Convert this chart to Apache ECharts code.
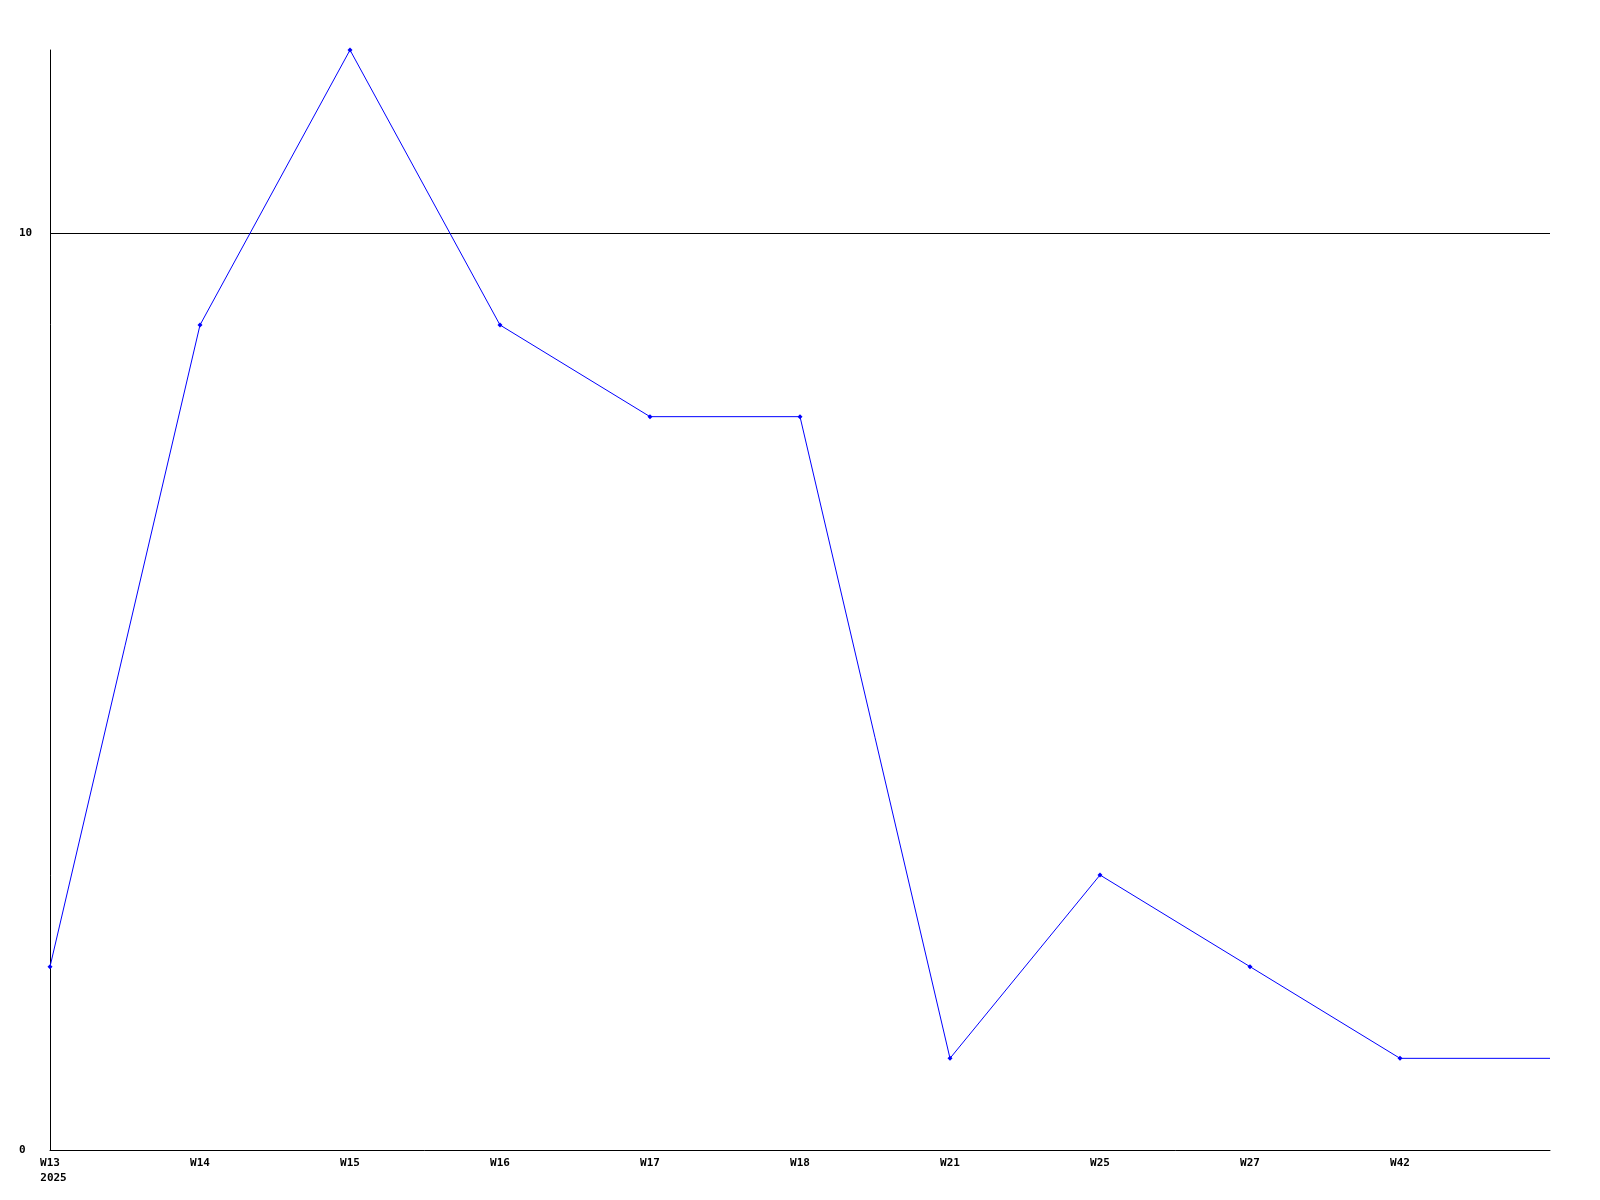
<!DOCTYPE html>
<html><head><meta charset="utf-8">
<script src="https://cdn.jsdelivr.net/npm/echarts@6/dist/echarts.min.js"></script>
<style>html,body{margin:0;padding:0;background:#fff}#c{width:1600px;height:1200px}</style>
</head><body><div id="c"></div>
<script>
var categories = ['W13','W14','W15','W16','W17','W18','W21','W25','W27','W42',''];
var yearLabel = '2025';
var values = [2,9,12,9,8,8,1,3,2,1,1];
var yTicks = [0,10];

var chart = echarts.init(document.getElementById('c'));
var font = {fontFamily:'DejaVu Sans Mono', fontWeight:'bold', fontSize:11, color:'#000'};
chart.setOption({
  animation:false,
  backgroundColor:'#fff',
  grid:{left:50,right:50,top:50,bottom:50,containLabel:false},
  xAxis:{type:'category',data:categories,boundaryGap:false,
    axisLine:{lineStyle:{color:'#000',width:1}},axisTick:{show:false},
    axisLabel:Object.assign({margin:6,interval:0,lineHeight:15,align:'center',
      formatter:function(v,i){return i===0?v+'\n{y|'+yearLabel+'}':v;},
      rich:{y:Object.assign({padding:[0,0,0,7],lineHeight:15},font)}},font)},
  yAxis:{type:'value',min:0,max:12,interval:10,
    axisLine:{show:true,lineStyle:{color:'#000',width:1}},axisTick:{show:false},
    axisLabel:Object.assign({margin:31,align:'left',showMaxLabel:false,formatter:function(v){return yTicks.indexOf(v)>=0?String(v):'';}},font),
    splitLine:{show:true,showMinLine:false,showMaxLine:false,lineStyle:{color:'#000',width:1}}},
  series:[{type:'line',data:values.map(function(v,i){return i===values.length-1?{value:v,symbol:'none'}:v;}),
    symbol:'diamond',symbolSize:5,showSymbol:true,
    lineStyle:{color:'#0000ff',width:1},itemStyle:{color:'#0000ff'}}]
});
</script></body></html>
